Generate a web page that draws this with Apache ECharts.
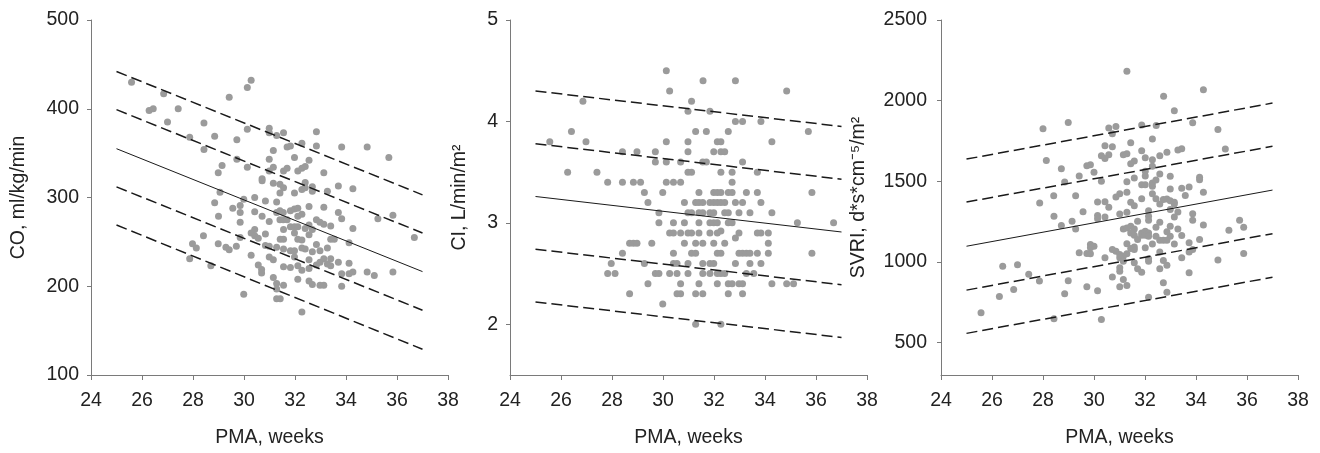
<!DOCTYPE html>
<html><head><meta charset="utf-8">
<script src="https://cdn.jsdelivr.net/npm/echarts@6/dist/echarts.min.js"></script>
<style>html,body{margin:0;padding:0;background:#fff}#c{width:1320px;height:453px}</style>
</head><body><div id="c"></div><script>
// ---- data ----
const xTicks = [24, 26, 28, 30, 32, 34, 36, 38];
const lineX = [25, 37];
const coTicks = [100, 200, 300, 400, 500];
const ciTicks = [2, 3, 4, 5];
const svriTicks = [500, 1000, 1500, 2000, 2500];

const coLines = [[442, 303], [399, 260], [355, 216.5], [312, 173], [269, 129]];
const ciLines = [[4.30, 3.95], [3.78, 3.43], [3.26, 2.91], [2.74, 2.39], [2.22, 1.87]];
const svriLines = [[1638, 1985], [1372, 1717], [1098, 1446], [826, 1176], [558, 906]];

const coPoints = [
[25.59,430],[26.28,398],[26.44,400],[26.85,417],[27.0,385],[27.42,400],[27.87,368],[28.43,384],[28.43,354],[28.85,369],
[28.99,328],[29.14,336],[29.42,413],[29.72,365],[29.72,343],[30.13,424],[30.28,432],[30.13,377],[30.13,334],[29.06,306],
[28.85,294],[29.0,279],[29.56,288],[29.85,291],[29.85,283],[29.99,298],[30.42,300],[30.42,284],[29.85,272],[29.85,255],
[28.41,257],[28.99,248],[27.98,248],[28.13,243],[27.87,231],[28.70,223],[29.29,244],[29.42,241],[29.70,245],[30.28,260],
[30.42,264],[30.42,257],[30.56,254],[30.28,235],[30.56,224],[30.69,219],[30.69,215],[29.99,191],[30.71,321],[30.71,319],
[30.84,296],[30.71,279],[30.84,259],[30.84,246],[30.99,378],[30.99,373],[30.99,343],[30.99,330],[31.15,353],[31.15,334],
[31.15,316],[31.28,370],[30.99,273],[30.99,245],[30.99,233],[31.15,230],[31.15,210],[31.28,295],[31.28,283],[31.41,315],
[31.41,305],[31.41,285],[31.54,283],[31.41,275],[31.54,275],[31.28,244],[31.28,203],[31.28,186],[31.42,186],[31.28,197],
[31.55,373],[31.55,330],[31.55,311],[31.55,264],[31.55,253],[31.55,242],[31.55,222],[31.55,201],[31.42,253],[31.69,357],
[31.82,358],[31.69,333],[31.69,275],[31.82,285],[31.82,267],[31.82,240],[31.82,221],[31.98,345],[31.98,305],[31.98,287],
[31.98,267],[31.98,260],[31.98,240],[31.98,233],[32.11,330],[32.11,288],[32.11,279],[32.11,267],[32.11,253],[32.11,223],
[32.11,208],[32.27,361],[32.27,333],[32.27,309],[32.27,281],[32.27,252],[32.27,243],[32.27,218],[32.27,171],[32.40,335],
[32.40,317],[32.40,311],[32.40,265],[32.40,242],[32.55,342],[32.55,290],[32.55,269],[32.55,258],[32.55,230],[32.55,220],
[32.55,206],[32.68,312],[32.68,307],[32.68,264],[32.68,239],[32.68,202],[32.84,374],[32.84,358],[32.84,275],[32.84,247],
[32.84,224],[32.98,272],[32.98,240],[32.98,227],[32.98,201],[33.13,328],[33.13,289],[33.13,270],[33.13,231],[33.13,201],
[33.27,307],[33.27,243],[33.27,225],[33.40,268],[33.40,253],[33.40,231],[33.40,223],[33.54,253],[33.70,313],[33.70,283],
[33.70,227],[33.83,357],[33.83,276],[33.83,214],[33.83,200],[34.12,249],[34.12,226],[34.12,214],[34.27,310],[34.27,265],
[34.27,216],[34.83,357],[34.83,216],[35.11,212],[35.25,276],[35.68,345],[35.84,280],[35.84,216],[36.68,255]
];

const ciPoints = [
[30.13,4.5],[31.57,4.4],[32.84,4.4],[30.26,4.3],[34.85,4.3],[26.86,4.2],[31.12,4.2],[30.98,4.1],[31.84,4.1],
[32.84,4.0],[33.12,4.0],[33.84,4.0],
[26.41,3.9],[31.28,3.9],[31.70,3.9],[32.56,3.9],[35.70,3.9],
[25.56,3.8],[26.98,3.8],[30.13,3.8],[30.98,3.8],[32.13,3.8],[32.27,3.8],[34.27,3.8],
[28.41,3.7],[28.98,3.7],[29.70,3.7],[30.98,3.7],[31.99,3.7],[32.27,3.7],[32.42,3.7],
[29.70,3.6],[30.13,3.6],[30.69,3.6],[31.56,3.6],[31.70,3.6],[33.12,3.6],
[26.26,3.5],[27.41,3.5],[30.98,3.5],[31.12,3.5],[32.27,3.5],[32.71,3.5],[33.70,3.5],
[27.83,3.4],[28.41,3.4],[28.84,3.4],[29.12,3.4],[30.13,3.4],[30.41,3.4],[30.69,3.4],[32.71,3.4],
[29.27,3.3],[29.99,3.3],[31.41,3.3],[31.99,3.3],[32.13,3.3],[32.27,3.3],[32.56,3.3],[32.71,3.3],[33.27,3.3],[33.70,3.3],[35.84,3.3],
[29.41,3.2],[30.84,3.2],[31.28,3.2],[31.41,3.2],[31.56,3.2],[31.84,3.2],[31.99,3.2],[32.13,3.2],[32.27,3.2],[32.42,3.2],[32.84,3.2],[33.12,3.2],[33.84,3.2],
[29.84,3.1],[30.98,3.1],[31.12,3.1],[31.41,3.1],[31.56,3.1],[31.84,3.1],[31.99,3.1],[32.42,3.1],[32.56,3.1],[32.98,3.1],[33.41,3.1],[34.27,3.1],
[29.84,3.0],[30.41,3.0],[30.84,3.0],[31.41,3.0],[31.84,3.0],[31.99,3.0],[32.13,3.0],[32.56,3.0],[32.71,3.0],[35.27,3.0],[36.69,3.0],
[30.26,2.9],[30.41,2.9],[30.69,2.9],[30.98,2.9],[31.12,2.9],[31.41,2.9],[31.84,2.9],[32.13,2.9],[32.27,2.92],[32.98,2.9],[33.70,2.9],[33.84,2.9],[34.13,2.9],
[32.84,2.85],
[28.69,2.8],[28.84,2.8],[28.98,2.8],[29.56,2.8],[30.84,2.8],[31.28,2.8],[31.56,2.8],[31.99,2.8],[32.42,2.8],[34.13,2.8],
[28.41,2.7],[30.41,2.7],[31.12,2.7],[31.28,2.7],[32.13,2.7],[32.27,2.7],[32.98,2.7],[33.12,2.7],[33.27,2.7],[33.41,2.7],[33.70,2.7],[34.13,2.7],[35.84,2.7],
[27.97,2.6],[29.27,2.6],[30.41,2.6],[30.55,2.6],[30.98,2.6],[31.56,2.6],[31.84,2.6],[31.99,2.6],[32.84,2.6],[33.41,2.6],[33.84,2.6],
[27.83,2.5],[28.12,2.5],[29.70,2.5],[29.84,2.5],[30.26,2.5],[30.55,2.5],[30.98,2.5],[31.56,2.5],[31.84,2.5],[32.13,2.5],[32.27,2.5],[32.42,2.5],[33.27,2.5],[33.56,2.5],
[29.41,2.4],[30.69,2.4],[31.41,2.4],[32.13,2.4],[32.56,2.4],[32.71,2.4],[32.98,2.4],[33.12,2.4],[34.27,2.4],[34.85,2.4],[35.12,2.4],
[28.69,2.3],[30.55,2.3],[30.69,2.3],[31.28,2.3],[31.56,2.3],[32.56,2.3],[33.12,2.3],
[29.99,2.2],[31.28,2.0],[32.27,2.0]
];

const svriPoints = [
[31.29,2182],[34.29,2067],[32.73,2028],[33.15,1937],[28.99,1865],[33.87,1863],[28.0,1826],[34.86,1822],[30.58,1830],[30.86,1840],
[30.72,1795],[31.87,1850],[32.44,1846],[32.29,1762],[31.44,1739],[30.43,1721],[30.72,1714],[33.44,1702],[33.29,1694],[35.15,1700],
[30.29,1659],[30.58,1665],[30.43,1642],[31.15,1665],[31.29,1671],[31.87,1690],[32.86,1681],[32.58,1659],[28.13,1630],[32.01,1646],
[32.29,1634],[31.58,1626],[31.44,1609],[29.86,1603],[29.72,1597],[32.29,1593],[28.72,1578],[30.0,1556],[32.01,1562],[29.42,1533],
[32.01,1533],[32.99,1531],[32.58,1545],[31.58,1521],[28.85,1496],[30.29,1500],[31.29,1498],[32.29,1490],[32.43,1508],[34.14,1525],
[34.14,1510],[31.87,1479],[32.01,1479],[32.29,1469],[32.99,1453],[33.44,1457],[33.73,1465],[34.29,1432],[31.29,1432],[31.01,1424],
[30.86,1403],[32.29,1424],[32.43,1393],[33.58,1413],[28.42,1411],[29.28,1411],[27.87,1366],[30.14,1372],[30.43,1374],[31.87,1393],
[32.72,1387],[32.86,1391],[32.99,1380],[33.15,1370],[33.15,1360],[31.44,1370],[31.58,1349],[32.58,1360],[30.58,1339],[32.99,1325],
[29.57,1312],[31.29,1308],[31.01,1298],[32.14,1318],[33.29,1310],[33.87,1300],[28.43,1284],[30.14,1288],[30.14,1269],[30.43,1279],
[33.15,1279],[32.14,1284],[32.14,1259],[29.14,1253],[31.71,1253],[35.71,1259],[32.58,1247],[33.87,1259],[28.72,1226],[32.99,1222],
[34.29,1230],[35.87,1216],[29.28,1205],[31.15,1205],[31.29,1211],[31.44,1222],[31.58,1205],[32.43,1216],[33.29,1205],[35.29,1197],
[31.44,1180],[31.87,1180],[32.01,1191],[32.14,1180],[32.86,1187],[31.58,1166],[31.87,1166],[32.01,1166],[32.14,1160],[32.43,1160],
[32.99,1160],[33.44,1164],[31.71,1139],[32.58,1135],[32.72,1135],[32.86,1135],[34.14,1139],[32.29,1112],[33.15,1112],[33.73,1120],
[31.29,1114],[29.86,1108],[30.0,1098],[31.58,1094],[31.44,1084],[32.01,1088],[30.72,1077],[30.86,1067],[31.58,1077],[29.86,1088],
[33.87,1077],[33.73,1063],[29.42,1057],[29.72,1053],[29.86,1051],[32.58,1063],[31.01,1046],[31.15,1036],[31.29,1051],[35.87,1053],
[30.43,1026],[31.01,1026],[33.44,1026],[32.14,1020],[32.14,1005],[32.72,1009],[32.86,980],[31.15,1005],[34.86,1013],[31.58,995],
[31.01,964],[31.01,943],[31.71,958],[32.58,958],[31.87,937],[33.73,933],[27.44,925],[30.72,908],[31.15,892],[26.42,974],
[27.0,984],[27.86,882],[28.99,884],[32.72,871],[29.72,847],[31.01,847],[31.29,855],[26.85,830],[30.14,822],[28.85,803],
[32.86,813],[26.29,787],[32.14,782],[25.57,686],[28.43,649],[30.29,644]
];

// ---- chart ----
const FONT = '"Liberation Sans", Arial, sans-serif';
const FS = 19.5;
const TXT = '#222';
const AX = '#7a7a7a';
const chart = echarts.init(document.getElementById('c'), null, {renderer: 'canvas'});

const lefts = [91, 510, 941];
const grids = lefts.map(l => ({left: l, top: 20, width: 357, height: 356}));

const xAxes = [0, 1, 2].map(i => ({
  type: 'value', gridIndex: i, min: xTicks[0], max: xTicks[xTicks.length - 1], interval: 2,
  name: 'PMA, weeks', nameLocation: 'middle', nameGap: 53,
  nameTextStyle: {fontFamily: FONT, fontSize: FS, color: TXT},
  axisLine: {lineStyle: {color: AX, width: 1}},
  axisTick: {show: true, inside: false, length: 5, lineStyle: {color: AX}},
  axisLabel: {fontFamily: FONT, fontSize: FS, color: TXT, margin: 16},
  splitLine: {show: false}
}));

function yAxis(i, min, max, ticks, name, gap, margin) {
  return {
    type: 'value', gridIndex: i, min: min, max: max,
    name: name, nameLocation: 'middle', nameGap: gap,
    nameTextStyle: {fontFamily: FONT, fontSize: FS, color: TXT},
    axisLine: {show: true, lineStyle: {color: AX, width: 1}},
    axisTick: {show: true, inside: false, length: 4, lineStyle: {color: AX}, customValues: ticks},
    axisLabel: {fontFamily: FONT, fontSize: FS, color: TXT, margin: margin, customValues: ticks,
      formatter: v => String(v)},
    splitLine: {show: false}
  };
}
const yAxes = [
  yAxis(0, 100, 500, coTicks, 'CO, ml/kg/min', 62, 12),
  yAxis(1, 1.5, 5, ciTicks, 'CI, L/min/m\u00B2', 40, 12),
  yAxis(2, 300, 2500, svriTicks, 'SVRI, d*s*cm\u207B\u2075/m\u00B2', 72, 14)
];

const series = [];
const sets = [[coPoints, coLines], [ciPoints, ciLines], [svriPoints, svriLines]];
sets.forEach(([pts, lines], i) => {
  lines.forEach((ln, k) => {
    const solid = k === 2;
    series.push({
      type: 'line', xAxisIndex: i, yAxisIndex: i, silent: true, symbol: 'none', z: 3,
      data: [[lineX[0], ln[0]], [lineX[1], ln[1]]],
      lineStyle: {color: '#1a1a1a', width: solid ? 1 : 1.5, type: solid ? 'solid' : [11, 5]}
    });
  });
  series.push({
    type: 'scatter', xAxisIndex: i, yAxisIndex: i, symbol: 'circle', symbolSize: 7, z: 2,
    itemStyle: {color: '#9b9b9b', opacity: 1}, data: pts
  });
});

chart.setOption({
  animation: false,
  backgroundColor: '#fff',
  grid: grids,
  xAxis: xAxes,
  yAxis: yAxes,
  series: series
});
</script></body></html>
